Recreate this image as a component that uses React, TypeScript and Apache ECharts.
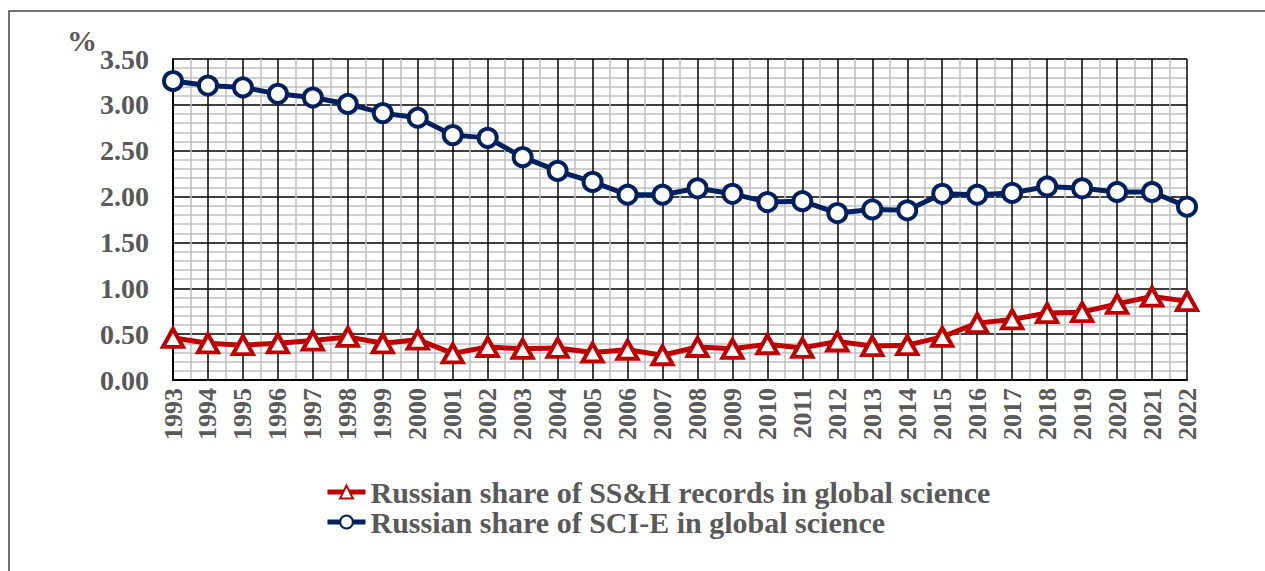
import React, { useEffect, useRef } from "react";
import * as echarts from "echarts";

const years = [
  "1993", "1994", "1995", "1996", "1997", "1998", "1999", "2000", "2001", "2002",
  "2003", "2004", "2005", "2006", "2007", "2008", "2009", "2010", "2011", "2012",
  "2013", "2014", "2015", "2016", "2017", "2018", "2019", "2020", "2021", "2022",
];

const ssh = [
  0.46, 0.40, 0.38, 0.40, 0.43, 0.47, 0.40, 0.44, 0.29, 0.36,
  0.34, 0.35, 0.30, 0.33, 0.27, 0.36, 0.34, 0.39, 0.35, 0.42,
  0.37, 0.38, 0.47, 0.62, 0.66, 0.73, 0.74, 0.83, 0.91, 0.86,
];

const scie = [
  3.26, 3.21, 3.19, 3.12, 3.08, 3.01, 2.91, 2.86, 2.67, 2.64,
  2.43, 2.28, 2.16, 2.02, 2.02, 2.09, 2.03, 1.94, 1.95, 1.82,
  1.86, 1.85, 2.03, 2.02, 2.04, 2.11, 2.09, 2.05, 2.05, 1.89,
];

const sshName = "Russian share of SS&H records in global science";
const scieName = "Russian share of SCI-E in global science";

const FONT = "Liberation Serif";
const GRAY = "#595959";

export default function App() {
  const ref = useRef<HTMLDivElement>(null);
  useEffect(() => {
    document.body.style.margin = "0";
    const chart = echarts.init(ref.current!, null, { renderer: "svg" });
    chart.setOption({
      animation: false,
      backgroundColor: "#ffffff",
      grid: { left: 173, top: 59, right: 78, bottom: 191, containLabel: false },
      graphic: [
        {
          type: "rect",
          shape: { x: 9, y: 11, width: 1400, height: 700 },
          style: { fill: "none", stroke: "#404040", lineWidth: 1.5 },
          silent: true,
        },
        {
          type: "text",
          x: 67,
          y: 25,
          style: { text: "%", fill: GRAY, fontFamily: FONT, fontWeight: "bold", fontSize: 30 },
        },
      ],
      legend: {
        orient: "vertical",
        left: 320,
        top: 472,
        itemGap: 0,
        itemWidth: 38,
        itemHeight: 16,
        lineStyle: { width: 5 },
        textStyle: { color: GRAY, fontFamily: FONT, fontWeight: "bold", fontSize: 30 },
        data: [sshName, scieName],
      },
      xAxis: {
        type: "value",
        min: 0,
        max: years.length - 1,
        interval: 1,
        axisLine: { show: true, lineStyle: { color: "#000", width: 2 } },
        axisTick: { show: false },
        axisLabel: {
          rotate: 90,
          margin: 8,
          color: GRAY,
          fontFamily: FONT,
          fontWeight: "bold",
          fontSize: 26,
          formatter: (v: number) => years[Math.round(v)] ?? "",
        },
        splitLine: { show: true, lineStyle: { color: "#000", width: 1.5 } },
        minorTick: { show: false, splitNumber: 2 },
        minorSplitLine: { show: true, lineStyle: { color: "#bfbfbf", width: 1.5 } },
      },
      yAxis: {
        type: "value",
        min: 0,
        max: 3.5,
        interval: 0.5,
        axisLine: { show: true, lineStyle: { color: "#000", width: 2 } },
        axisTick: { show: false },
        axisLabel: {
          margin: 24,
          color: GRAY,
          fontFamily: FONT,
          fontWeight: "bold",
          fontSize: 28,
          formatter: (v: number) => v.toFixed(2),
        },
        splitLine: { show: true, lineStyle: { color: "#000", width: 1.5 } },
        minorTick: { show: false, splitNumber: 5 },
        minorSplitLine: { show: true, lineStyle: { color: "#bfbfbf", width: 1.5 } },
      },
      series: [
        {
          name: sshName,
          type: "line",
          data: ssh.map((v, i) => [i, v]),
          symbol: "triangle",
          symbolSize: [20, 18],
          lineStyle: { color: "#c00000", width: 5 },
          itemStyle: { color: "#ffffff", borderColor: "#c00000", borderWidth: 4 },
          z: 3,
        },
        {
          name: scieName,
          type: "line",
          data: scie.map((v, i) => [i, v]),
          symbol: "circle",
          symbolSize: 18,
          lineStyle: { color: "#002060", width: 5 },
          itemStyle: { color: "#ffffff", borderColor: "#002060", borderWidth: 4 },
          z: 4,
        },
      ],
    });
    return () => chart.dispose();
  }, []);
  return <div ref={ref} style={{ width: 1265, height: 571 }} />;
}
